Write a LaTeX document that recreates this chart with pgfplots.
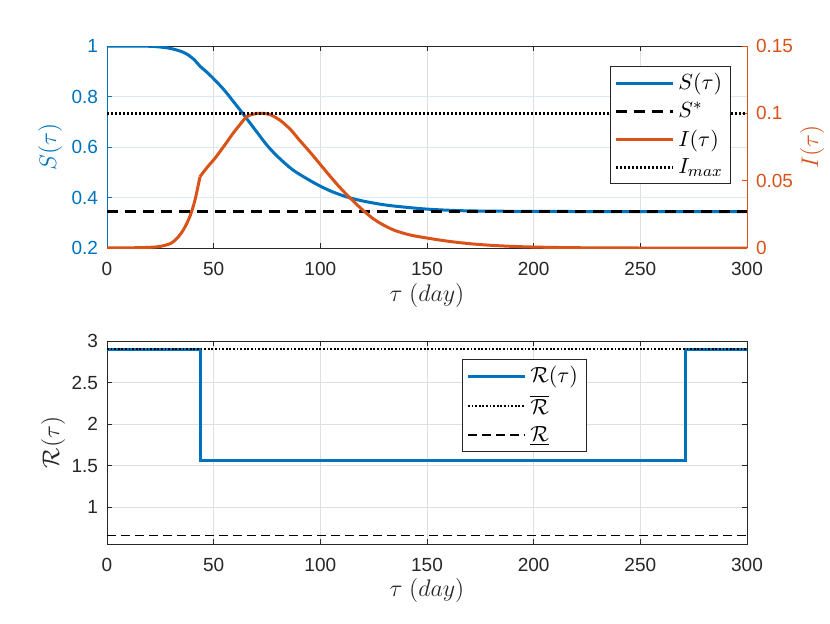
\documentclass[border=0pt]{standalone}
\usepackage{fontspec}
\setmainfont{Liberation Sans}
\usepackage{pgfplots}
\pgfplotsset{compat=1.18}
\definecolor{mblue}{rgb}{0,0.447,0.741}
\definecolor{morange}{rgb}{0.851,0.325,0.098}
\definecolor{mgray}{rgb}{0.15,0.15,0.15}
\definecolor{gridgray}{rgb}{0.875,0.875,0.875}
\definecolor{gridblue}{rgb}{0.85,0.915,0.96}

\pgfplotstableread{
t S
0 1.0
10 1.0
20 0.999
25 0.996
30 0.990
35 0.978
38 0.965
41 0.945
43.6 0.920
47 0.895
50.6 0.865
55 0.825
60 0.772
64 0.729
70 0.662
75 0.607
80 0.562
87 0.510
95 0.468
100 0.445
105 0.425
110 0.409
115 0.396
120 0.386
125 0.378
130 0.371
137 0.364
150 0.354
165 0.348
180 0.346
200 0.345
250 0.344
300 0.344
}\Sdata

\pgfplotstableread{
t I
0 0.0
10 0.0001
20 0.0005
25 0.0012
30 0.0035
33 0.0075
36 0.014
39 0.024
41.3 0.036
43.6 0.053
}\IdataA

\pgfplotstableread{
t I
43.6 0.053
47 0.060
50.6 0.0666
55 0.076
59 0.085
62 0.091
65.5 0.0975
69 0.0995
72 0.1
76 0.0993
81 0.095
86 0.088
90 0.0805
95 0.0715
100 0.0620
105 0.0525
110 0.0435
115 0.0355
120 0.0280
125 0.0215
130 0.0167
135 0.0130
142 0.0097
150 0.0074
160 0.0050
170 0.0032
180 0.0020
190 0.0012
200 0.0007
215 0.0003
230 0.0001
250 0.0
300 0.0
}\IdataB

\pgfplotsset{
  mbase/.style={
    scale only axis, width=320pt,
    xmin=0, xmax=300, xtick={0,50,100,150,200,250,300},
    tick align=inside,
    major tick length=2.6pt,
    tick style={mgray, line width=0.4pt},
    axis line style={mgray, line width=0.4pt},
    ticklabel style={font=\fontsize{9.5}{11}\selectfont, text=mgray},
    xticklabel style={yshift=-3.5pt},
    yticklabel style={xshift=-1pt},
    /pgf/number format/assume math mode=true,
    /pgf/number format/fixed,
    /pgf/number format/precision=2,
    label style={font=\fontsize{12}{14}\selectfont},
    legend style={draw=mgray, line width=0.4pt, fill=white,
      font=\fontsize{11}{13}\selectfont, cells={anchor=west},
      inner xsep=2pt, inner ysep=1.5pt, row sep=0.6pt},
    legend image code/.code={\draw[##1] (0cm,0cm) -- (1.0cm,0cm);},
  }
}

\begin{document}
\begin{tikzpicture}
\useasboundingbox (0,0) rectangle (415pt,311.5pt);
% ---------- top, left axis ----------
\begin{axis}[mbase, at={(53.5pt,187.5pt)}, anchor=south west, height=101pt,
  ymin=0.2, ymax=1, ytick={0.2,0.4,0.6,0.8,1},
  axis y line*=left,
  y axis line style={mblue},
  ytick style={mblue},
  yticklabel style={text=mblue},
  xmajorgrids, ymajorgrids,
  x grid style={gridgray, line width=0.4pt},
  y grid style={gridblue, line width=0.4pt},
  xlabel={$\tau\ (day)$},
  xlabel style={at={(axis description cs:0.5,-0.2376)}, anchor=center, text=mgray},
  ylabel={$S(\tau)$},
  ylabel style={at={(axis description cs:-0.089,0.5)}, anchor=center, text=mblue},
]
\addplot[mblue, line width=1.5pt, smooth, tension=0.5] table[x=t,y=S] {\Sdata};
\addplot[black, line width=1.5pt, dash pattern=on 5.5pt off 3.5pt] coordinates {(0,0.343) (300,0.343)};
\end{axis}
% ---------- top, right axis ----------
\begin{axis}[mbase, at={(53.5pt,187.5pt)}, anchor=south west, height=101pt,
  ymin=0, ymax=0.15, ytick={0,0.05,0.1,0.15},
  axis x line=none,
  axis y line*=right,
  y axis line style={morange},
  ytick style={morange},
  yticklabel style={text=morange, xshift=2pt},
  ylabel={$I(\tau)$},
  ylabel style={at={(axis description cs:1.1016,0.5)}, anchor=center, text=morange},
  legend style={at={(axis description cs:0.786,0.901)}, anchor=north west},
]
\addlegendimage{mblue, line width=1.5pt}
\addlegendentry{$S(\tau)$}
\addlegendimage{black, line width=1.5pt, dash pattern=on 5.5pt off 3.5pt}
\addlegendentry{$S^{*}$}
\addplot[morange, line width=1.5pt, smooth, tension=0.5, forget plot] table[x=t,y=I] {\IdataA};
\addplot[morange, line width=1.5pt, smooth, tension=0.5] table[x=t,y=I] {\IdataB};
\addlegendentry{$I(\tau)$}
\addplot[black, line width=1.5pt, dash pattern=on 1pt off 1pt] coordinates {(0,0.1) (300,0.1)};
\addlegendentry{$I_{max}$}
\end{axis}
% ---------- bottom ----------
\begin{axis}[mbase, at={(53.5pt,39.5pt)}, anchor=south west, height=101.5pt,
  ymin=0.557, ymax=3, ytick={1,1.5,2,2.5,3},
  xmajorgrids, ymajorgrids,
  grid style={gridgray, line width=0.4pt},
  xlabel={$\tau\ (day)$},
  xlabel style={at={(axis description cs:0.5,-0.2266)}, anchor=center, text=mgray},
  ylabel={$\mathcal{R}(\tau)$},
  ylabel style={at={(axis description cs:-0.084,0.5)}, anchor=center, text=mgray},
  legend style={at={(axis description cs:0.5547,0.911)}, anchor=north west},
]
\addplot[mblue, line width=1.5pt] coordinates {(0,2.9) (44,2.9) (44,1.564) (271,1.564) (271,2.9) (300,2.9)};
\addlegendentry{$\mathcal{R}(\tau)$}
\addplot[black, line width=1.1pt, dash pattern=on 0.9pt off 0.9pt] coordinates {(0,2.9) (300,2.9)};
\addlegendentry{$\overline{\mathcal{R}}$}
\addplot[black, line width=0.9pt, dash pattern=on 4.5pt off 2.5pt] coordinates {(0,0.66) (300,0.66)};
\addlegendentry{$\underline{\mathcal{R}}$}
\end{axis}
\end{tikzpicture}
\end{document}
